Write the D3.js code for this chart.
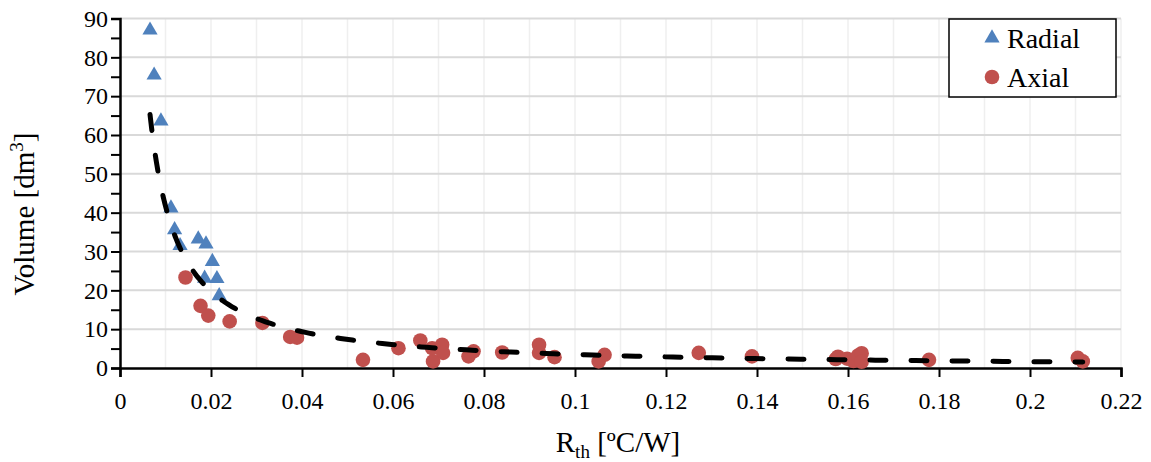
<!DOCTYPE html>
<html>
<head>
<meta charset="utf-8">
<script src="https://cdn.jsdelivr.net/npm/d3@7"></script>
<style>
  body { margin: 0; background: #fff; }
  svg text { font-family: "Liberation Serif", "Times New Roman", serif; fill: #000; }
</style>
</head>
<body>
<div id="chart"></div>
<script>
/* Volume vs. thermal resistance: radial vs. axial designs, power-law trend */
const radialX = [0.0066, 0.0075, 0.0090, 0.0112, 0.0120, 0.0132, 0.0172, 0.0189, 0.0203, 0.0186, 0.0213, 0.0218];
const radialY = [87.0, 75.4, 63.6, 41.2, 35.6, 31.5, 33.2, 31.9, 27.4, 23.1, 23.0, 18.6];

const axialX = [0.0144, 0.0177, 0.0194, 0.0241, 0.0313, 0.0374, 0.0389, 0.0534, 0.0612, 0.0660,
                0.0686, 0.0708, 0.0710, 0.0688, 0.0766, 0.0777, 0.0840, 0.0921, 0.0921, 0.0955,
                0.1052, 0.1065, 0.1272, 0.1389, 0.1573, 0.1578, 0.1598, 0.1612, 0.1622, 0.1630,
                0.1630, 0.1778, 0.2105, 0.2116];
const axialY = [23.3, 16.0, 13.5, 12.0, 11.6, 8.0, 7.8, 2.1, 5.1, 7.1,
                5.1, 6.0, 3.9, 1.7, 3.0, 4.3, 4.0, 6.0, 3.9, 2.8,
                1.7, 3.4, 3.9, 3.0, 2.3, 2.9, 2.4, 1.8, 3.2, 3.8,
                1.6, 2.1, 2.6, 1.7];

const xTicks = [0, 0.02, 0.04, 0.06, 0.08, 0.1, 0.12, 0.14, 0.16, 0.18, 0.2, 0.22];
const yTicks = [0, 10, 20, 30, 40, 50, 60, 70, 80, 90];
const seriesNames = ["Radial", "Axial"];

const W = 1151, H = 462;
const m = { left: 120, right: 30, top: 18.5, bottom: 94 };
const SERIF = '"Liberation Serif", "Times New Roman", serif';

const svg = d3.select("#chart").append("svg").attr("width", W).attr("height", H)
  .style("font-family", SERIF);

const x = d3.scaleLinear().domain([0, 0.22]).range([m.left, W - m.right]);
const y = d3.scaleLinear().domain([0, 90]).range([H - m.bottom, m.top]);

// gridlines
svg.append("g").selectAll("line")
  .data(d3.range(0, 0.2201, 0.01).slice(1)).join("line")
  .attr("x1", d => x(d)).attr("x2", d => x(d))
  .attr("y1", y(0)).attr("y2", y(90))
  .attr("stroke", "#efefef").attr("stroke-width", 1.5);
svg.append("g").selectAll("line")
  .data(yTicks.slice(1)).join("line")
  .attr("x1", x(0)).attr("x2", x(0.22))
  .attr("y1", d => y(d)).attr("y2", d => y(d))
  .attr("stroke", "#d9d9d9").attr("stroke-width", 2);

// axes
const yAxis = svg.append("g").attr("transform", `translate(${x(0)},0)`)
  .call(d3.axisLeft(y).tickValues(d3.range(0, 90.1, 5)).tickSize(9).tickFormat(d => d % 10 === 0 ? d : ""));
const xAxis = svg.append("g").attr("transform", `translate(0,${y(0)})`)
  .call(d3.axisBottom(x).tickValues(xTicks).tickSize(9).tickFormat(d => d3.format("")(+d.toFixed(2))));
[xAxis, yAxis].forEach(g => {
  g.attr("font-family", null).attr("font-size", null);
  g.select(".domain").attr("stroke", "#000").attr("stroke-width", 2.5);
  g.selectAll(".tick line").attr("stroke", "#000").attr("stroke-width", 2);
  g.selectAll(".tick text").style("font-size", "24px").style("font-family", SERIF);
});
yAxis.selectAll(".tick text").attr("x", -12);
xAxis.selectAll(".tick text").attr("y", 24);

// points
const radial = radialX.map((v, i) => [v, radialY[i]]);
const axial = axialX.map((v, i) => [v, axialY[i]]);
const tri = d3.symbol().type(d3.symbolTriangle).size(100);

svg.append("g").selectAll("path")
  .data(radial).join("path")
  .attr("d", tri)
  .attr("transform", d => `translate(${x(d[0])},${y(d[1])})`)
  .attr("fill", "#4f81bd");
svg.append("g").selectAll("circle")
  .data(axial).join("circle")
  .attr("cx", d => x(d[0])).attr("cy", d => y(d[1])).attr("r", 7.3)
  .attr("fill", "#c0504d");

// power trendline (least squares in log-log space, as a spreadsheet does it)
const all = radial.concat(axial);
const lx = all.map(d => Math.log(d[0])), ly = all.map(d => Math.log(d[1]));
const mx = d3.mean(lx), my = d3.mean(ly);
const b = d3.sum(lx, (v, i) => (v - mx) * (ly[i] - my)) / d3.sum(lx, v => (v - mx) ** 2);
const a = Math.exp(my - b * mx);
const [x0, x1] = d3.extent(all, d => d[0]);
const trend = d3.range(0, 201).map(i => {
  const xv = x0 * Math.pow(x1 / x0, i / 200);
  return [xv, a * Math.pow(xv, b)];
});
svg.append("path")
  .datum(trend)
  .attr("d", d3.line().x(d => x(d[0])).y(d => y(d[1])))
  .attr("fill", "none").attr("stroke", "#000").attr("stroke-width", 5)
  .attr("stroke-linecap", "round").attr("stroke-dasharray", "16 25");

// axis titles
svg.append("text")
  .attr("transform", `translate(34,214) rotate(-90)`)
  .attr("text-anchor", "middle").style("font-size", "29px")
  .html('Volume [dm<tspan dy="-11" style="font-size:19px">3</tspan><tspan dy="11">]</tspan>');
svg.append("text")
  .attr("x", 618).attr("y", 452).attr("text-anchor", "middle").style("font-size", "29px")
  .html('R<tspan dy="6" style="font-size:19px">th</tspan><tspan dy="-6"> [ºC/W]</tspan>');

// legend
const lg = svg.append("g");
lg.append("rect").attr("x", 949).attr("y", 19).attr("width", 167).attr("height", 78)
  .attr("fill", "#fff").attr("stroke", "#000").attr("stroke-width", 1.5);
const rows = lg.selectAll("g.row").data(seriesNames).join("g")
  .attr("transform", (d, i) => `translate(992,${38 + i * 39})`);
rows.append("path")
  .attr("d", (d, i) => i === 0 ? tri() : d3.symbol().type(d3.symbolCircle).size(Math.PI * 7.3 * 7.3)())
  .attr("fill", (d, i) => i === 0 ? "#4f81bd" : "#c0504d");
rows.append("text").attr("x", 15).attr("y", 10).style("font-size", "28px").text(d => d);
</script>
</body>
</html>
